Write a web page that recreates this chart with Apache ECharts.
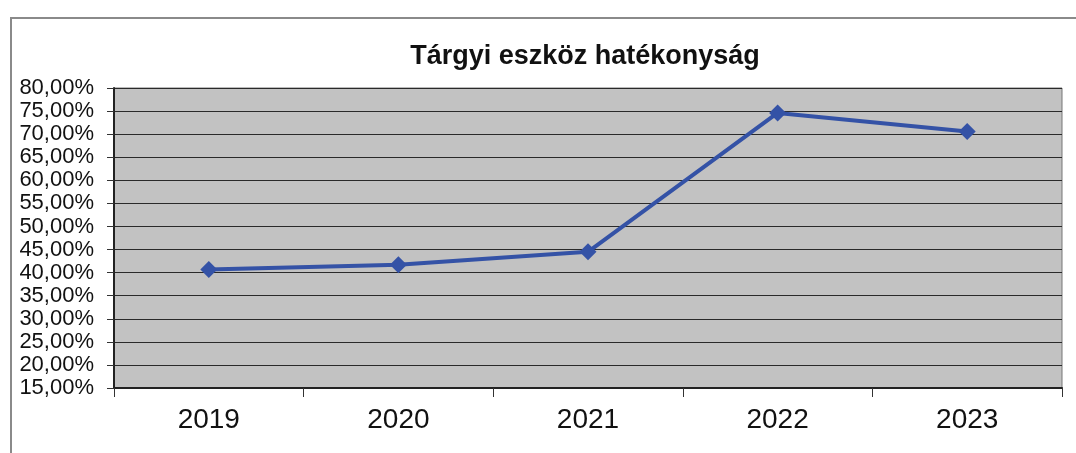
<!DOCTYPE html>
<html>
<head>
<meta charset="utf-8">
<script src="https://cdn.jsdelivr.net/npm/echarts@6/dist/echarts.min.js"></script>
<style>
html, body { margin: 0; padding: 0; background: #fff; }
#frame { position: absolute; left: 10px; top: 17px; width: 1066px; height: 436px;
  border-top: 2px solid #8a8a8a; border-left: 2px solid #8a8a8a; }
#main { position: absolute; left: 0; top: 0; width: 1076px; height: 453px; }
</style>
</head>
<body>
<div id="frame"></div>
<div id="main"></div>
<script>
var years = ['2019', '2020', '2021', '2022', '2023'];
// hatékonyság, %
var values = [40.7, 41.7, 44.5, 74.6, 70.6];

var myChart = echarts.init(document.getElementById('main'));
option = {
    title: {
        text: 'Tárgyi eszköz hatékonyság',
        left: 580,
        textAlign: 'center',
        top: 38,
        textStyle: {
            fontFamily: 'Liberation Sans',
            fontSize: 27,
            fontWeight: 'bold',
            color: '#111'
        }
    },
    grid: {
        left: 114,
        right: 14,
        top: 88,
        bottom: 65,
        show: true,
        backgroundColor: '#c2c2c2',
        borderColor: '#777',
        borderWidth: 1
    },
    xAxis: {
        type: 'category',
        data: years,
        boundaryGap: true,
        axisLine: { lineStyle: { color: '#222', width: 2 } },
        axisTick: { show: true, length: 9, lineStyle: { color: '#333' } },
        axisLabel: {
            margin: 18,
            fontFamily: 'Liberation Sans',
            fontSize: 28,
            color: '#111'
        }
    },
    yAxis: {
        type: 'value',
        min: 15,
        max: 80,
        interval: 5,
        axisLine: { show: true, lineStyle: { color: '#222', width: 2 } },
        axisTick: { show: true, length: 7, lineStyle: { color: '#333' } },
        splitLine: { lineStyle: { color: '#2a2a2a', width: 1 } },
        axisLabel: {
            margin: 20,
            fontFamily: 'Liberation Sans',
            fontSize: 22,
            color: '#111',
            formatter: function (v) { return v.toFixed(2).replace('.', ',') + '%'; }
        }
    },
    series: [
        {
            name: 'Tárgyi eszköz hatékonyság',
            type: 'line',
            data: values,
            symbol: 'diamond',
            symbolSize: 17,
            itemStyle: { color: '#3452a6' },
            lineStyle: { color: '#3452a6', width: 4 }
        }
    ]
};
myChart.setOption(option);
</script>
</body>
</html>
